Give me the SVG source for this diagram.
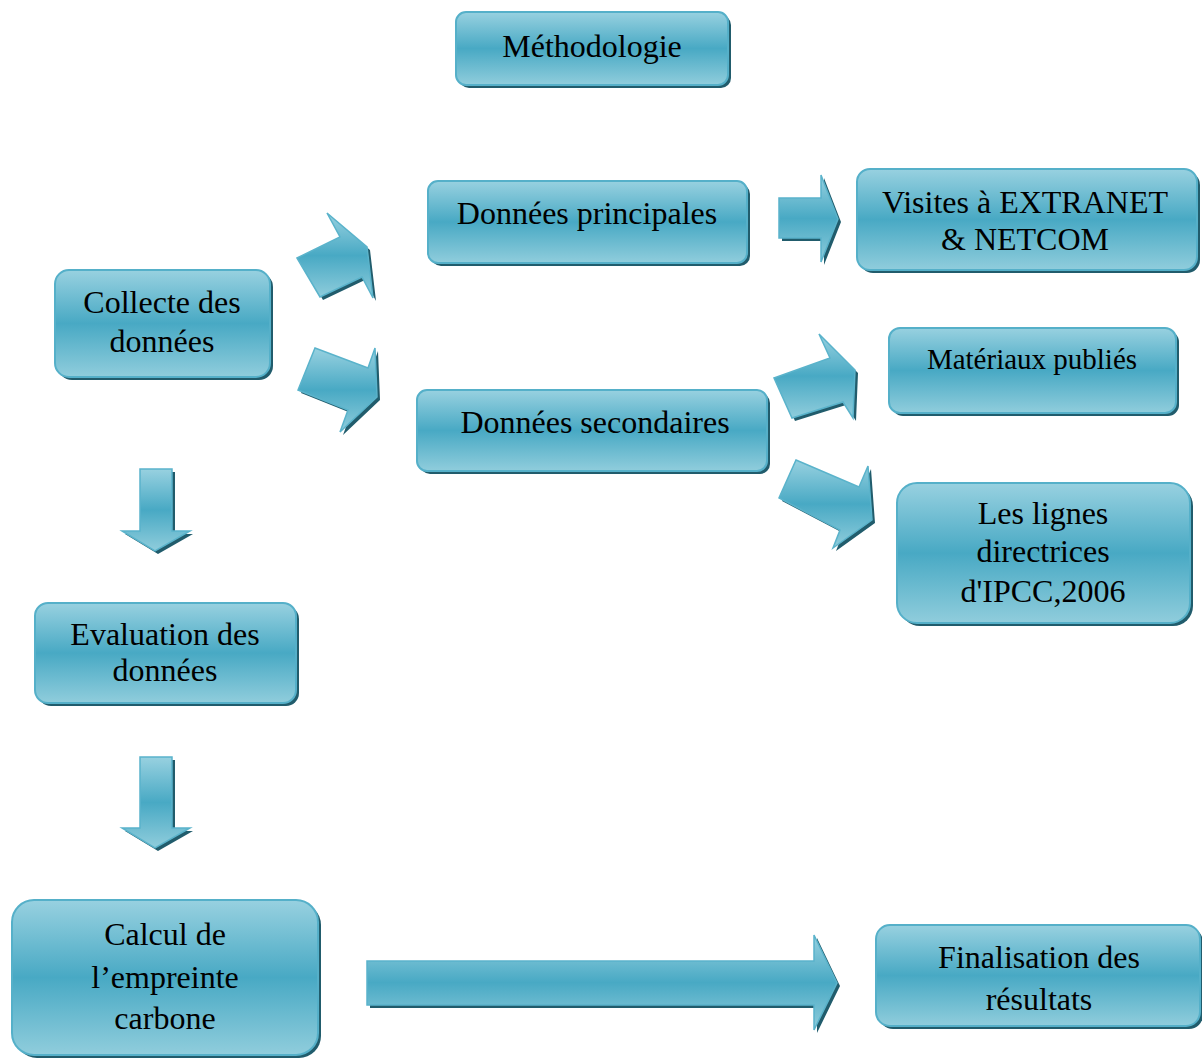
<svg xmlns="http://www.w3.org/2000/svg" width="1202" height="1059" viewBox="0 0 1202 1059">
<style>
.box{fill:url(#g);stroke:#55b0c9;stroke-width:2}
.arr{fill:url(#g);stroke:#5ab3cb;stroke-width:1.5;stroke-linejoin:miter}
.sh{fill:#215c6c}
.t{font-family:"Liberation Serif","Times New Roman",serif;font-size:32px;text-anchor:middle;fill:#000}
</style>
<defs>
<linearGradient id="g" x1="0" y1="0" x2="0" y2="1">
<stop offset="0" stop-color="#98d1e0"/>
<stop offset="0.5" stop-color="#48a9c4"/>
<stop offset="1" stop-color="#90cddc"/>
</linearGradient>
</defs>
<rect width="1202" height="1059" fill="#fff"/>

<g id="connectors">
<g id="a-collecte-principales">
<polygon class="sh" transform="translate(3,3)" points="297,258 340,237 327,213 367,247 373,298 362,277 320,297"/>
<polygon class="arr" points="297,258 340,237 327,213 367,247 373,298 362,277 320,297"/>
</g>
<g id="a-collecte-secondaires">
<polygon class="sh" transform="translate(3,3)" points="315,348 368,368 375,348 377,397 340,432 348,410 298,390"/>
<polygon class="arr" points="315,348 368,368 375,348 377,397 340,432 348,410 298,390"/>
</g>
<g id="a-principales-visites">
<polygon class="sh" transform="translate(3,3)" points="779,198 821,198 821,175 838,219 821,262 821,238 779,238"/>
<polygon class="arr" points="779,198 821,198 821,175 838,219 821,262 821,238 779,238"/>
</g>
<g id="a-secondaires-materiaux">
<polygon class="sh" transform="translate(3,3)" points="774,378 830,358 819,334 855,370 853,418 843,402 792,418"/>
<polygon class="arr" points="774,378 830,358 819,334 855,370 853,418 843,402 792,418"/>
</g>
<g id="a-secondaires-lignes">
<polygon class="sh" transform="translate(3,3)" points="796,460 859,487 868,466 872,520 833,548 840,530 779,498"/>
<polygon class="arr" points="796,460 859,487 868,466 872,520 833,548 840,530 779,498"/>
</g>
<g id="a-collecte-evaluation">
<polygon class="sh" transform="translate(3,3)" points="140,469 172,469 172,531 190,531 155,551 122,531 140,531"/>
<polygon class="arr" points="140,469 172,469 172,531 190,531 155,551 122,531 140,531"/>
</g>
<g id="a-evaluation-calcul">
<polygon class="sh" transform="translate(3,3)" points="140,757 172,757 172,828 190,828 155,848 122,828 140,828"/>
<polygon class="arr" points="140,757 172,757 172,828 190,828 155,848 122,828 140,828"/>
</g>
<g id="a-calcul-finalisation">
<polygon class="sh" transform="translate(3,3)" points="367,961 814,961 814,935 837,983 814,1030 814,1005 367,1005"/>
<polygon class="arr" points="367,961 814,961 814,935 837,983 814,1030 814,1005 367,1005"/>
</g>
</g>

<g id="methodologie">
<rect class="sh" x="459" y="15" width="272" height="73" rx="10"/>
<rect class="box" x="456" y="12" width="272" height="73" rx="10"/>
<text class="t" x="592" y="57">Méthodologie</text>
</g>

<g id="principales">
<rect class="sh" x="431" y="184" width="319" height="82" rx="10"/>
<rect class="box" x="428" y="181" width="319" height="82" rx="10"/>
<text class="t" x="587" y="224">Données principales</text>
</g>

<g id="visites">
<rect class="sh" x="860" y="172" width="340" height="101" rx="13"/>
<rect class="box" x="857" y="169" width="340" height="101" rx="13"/>
<text class="t" x="1025" y="213">Visites à EXTRANET</text>
<text class="t" x="1025" y="250">&amp; NETCOM</text>
</g>

<g id="collecte">
<rect class="sh" x="58" y="273" width="215" height="107" rx="14"/>
<rect class="box" x="55" y="270" width="215" height="107" rx="14"/>
<text class="t" x="162" y="313">Collecte des</text>
<text class="t" x="162" y="352">données</text>
</g>

<g id="materiaux">
<rect class="sh" x="892" y="331" width="287" height="85" rx="11"/>
<rect class="box" x="889" y="328" width="287" height="85" rx="11"/>
<text class="t" x="1032" y="369" style="font-size:29px">Matériaux publiés</text>
</g>

<g id="secondaires">
<rect class="sh" x="420" y="393" width="350" height="81" rx="10"/>
<rect class="box" x="417" y="390" width="350" height="81" rx="10"/>
<text class="t" x="595" y="433">Données secondaires</text>
</g>

<g id="lignes">
<rect class="sh" x="900" y="486" width="293" height="140" rx="20"/>
<rect class="box" x="897" y="483" width="293" height="140" rx="20"/>
<text class="t" x="1043" y="524">Les lignes</text>
<text class="t" x="1043" y="562">directrices</text>
<text class="t" x="1043" y="602">d'IPCC,2006</text>
</g>

<g id="evaluation">
<rect class="sh" x="38" y="606" width="261" height="100" rx="13"/>
<rect class="box" x="35" y="603" width="261" height="100" rx="13"/>
<text class="t" x="165" y="645">Evaluation des</text>
<text class="t" x="165" y="681">données</text>
</g>

<g id="calcul">
<rect class="sh" x="15" y="903" width="306" height="155" rx="22"/>
<rect class="box" x="12" y="900" width="306" height="155" rx="22"/>
<text class="t" x="165" y="945">Calcul de</text>
<text class="t" x="165" y="988">l’empreinte</text>
<text class="t" x="165" y="1029">carbone</text>
</g>

<g id="finalisation">
<rect class="sh" x="879" y="928" width="324" height="101" rx="14"/>
<rect class="box" x="876" y="925" width="324" height="101" rx="14"/>
<text class="t" x="1039" y="968">Finalisation des</text>
<text class="t" x="1039" y="1010">résultats</text>
</g>
</svg>
